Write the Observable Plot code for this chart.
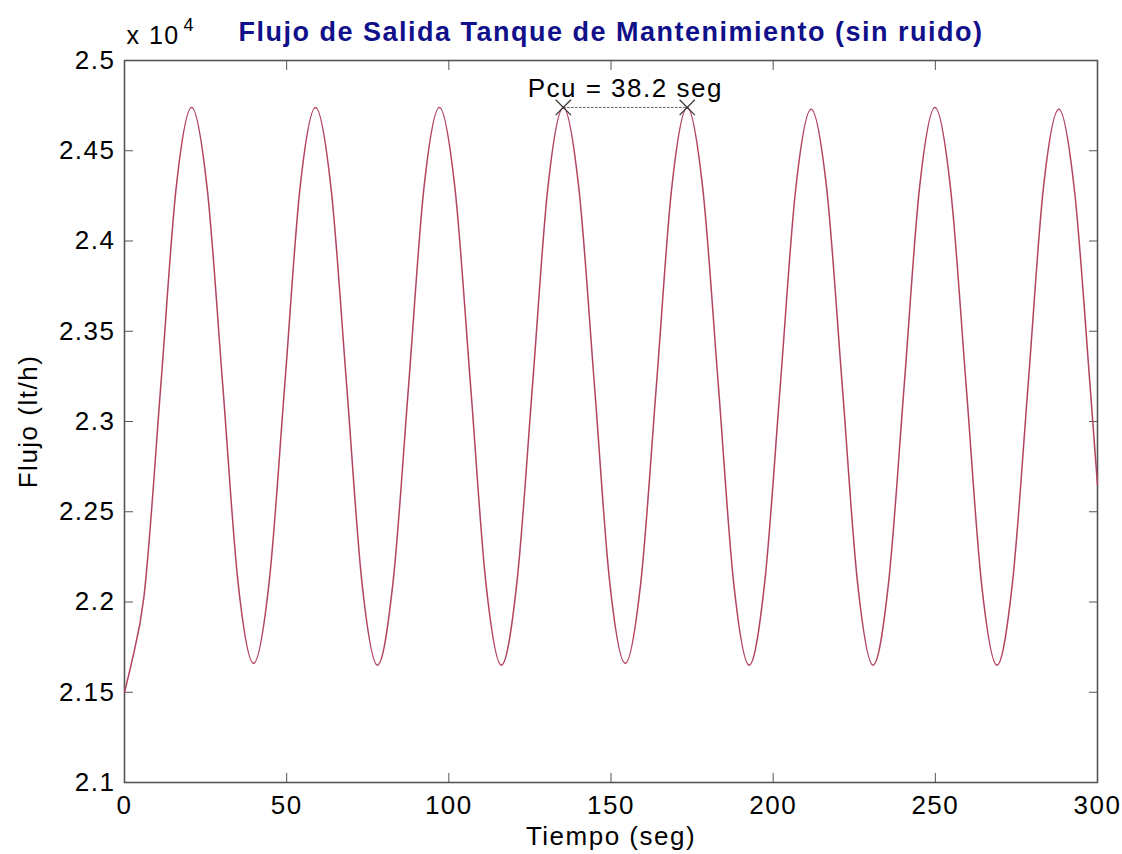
<!DOCTYPE html>
<html><head><meta charset="utf-8">
<script src="https://cdn.jsdelivr.net/npm/d3@7"></script>
<script src="https://cdn.jsdelivr.net/npm/@observablehq/plot@0.6"></script>
<style>body{margin:0;background:#fff}</style>
</head><body><div id="chart"></div>
<script>
const tiempo = [0, 2.0, 6.0, 11.2, 15.9,
  20.7, 25.5, 30.3, 35.0, 39.8, 44.6, 49.4, 54.1,
  58.9, 63.7, 68.5, 73.2, 78.0, 82.8, 87.6, 92.3,
  97.1, 101.9, 106.7, 111.4, 116.2, 121.0, 125.8, 130.5,
  135.3, 140.1, 144.9, 149.6, 154.4, 159.2, 164.0, 168.7,
  173.5, 178.3, 183.1, 187.8, 192.6, 197.4, 202.2, 206.9,
  211.7, 216.5, 221.3, 226.0, 230.8, 235.6, 240.4, 245.1,
  249.9, 254.7, 259.5, 264.2, 269.0, 273.8, 278.6, 283.3,
  288.1, 292.9, 297.7, 300];
const flujo = [2.150, 2.165, 2.203, 2.320, 2.429,
  2.474, 2.429, 2.320, 2.211, 2.166, 2.211, 2.320, 2.429,
  2.474, 2.429, 2.320, 2.211, 2.165, 2.211, 2.320, 2.429,
  2.474, 2.429, 2.320, 2.211, 2.165, 2.211, 2.320, 2.429,
  2.474, 2.429, 2.320, 2.211, 2.166, 2.211, 2.320, 2.429,
  2.474, 2.429, 2.320, 2.211, 2.165, 2.211, 2.320, 2.428,
  2.473, 2.429, 2.320, 2.211, 2.165, 2.211, 2.320, 2.429,
  2.474, 2.429, 2.320, 2.211, 2.165, 2.211, 2.320, 2.429,
  2.473, 2.428, 2.320, 2.265];
const xTicks = [0, 50, 100, 150, 200, 250, 300];
const yTicks = [2.1, 2.15, 2.2, 2.25, 2.3, 2.35, 2.4, 2.45, 2.5];
const pcuTiempo = [135.3, 173.5];
const pcuFlujo = [2.474, 2.474];
const pcuLabel = "Pcu = 38.2 seg";
const titulo = "Flujo de Salida Tanque de Mantenimiento (sin ruido)";
const xLabel = "Tiempo (seg)";
const yLabel = "Flujo (lt/h)";
const escala = "x 10";
const exponente = "4";

const data = tiempo.map((t, i) => ({t, f: flujo[i]}));
const pcu = pcuTiempo.map((t, i) => ({t, f: pcuFlujo[i]}));
const pcuMid = [{t: (pcuTiempo[0] + pcuTiempo[1]) / 2, f: pcuFlujo[0]}];

const axisColor = "#555";
const chart = Plot.plot({
  width: 1122, height: 854,
  marginLeft: 124, marginRight: 25, marginTop: 60, marginBottom: 72,
  style: {fontFamily: "'Liberation Sans', Arial, sans-serif", letterSpacing: "1.5px", background: "#fff", color: "#000"},
  x: {domain: [0, 300]},
  y: {domain: [2.1, 2.5]},
  marks: [
    Plot.axisX(xTicks, {anchor: "bottom", tickSize: -9, tickPadding: 22, fontSize: 26, label: null, stroke: axisColor, fill: "#000"}),
    Plot.axisX(xTicks, {anchor: "top", tickSize: -9, tickFormat: () => "", label: null, stroke: axisColor}),
    Plot.axisY(yTicks, {anchor: "left", tickSize: -9, tickPadding: 18, fontSize: 26, label: null, stroke: axisColor, fill: "#000", tickFormat: d => String(d)}),
    Plot.axisY(yTicks, {anchor: "right", tickSize: -9, tickFormat: () => "", label: null, stroke: axisColor}),
    Plot.frame({stroke: axisColor, strokeWidth: 1.6}),
    Plot.line(data, {x: "t", y: "f", stroke: "#b3445e", strokeWidth: 1.5, curve: "monotone-x"}),
    Plot.line(pcu, {x: "t", y: "f", stroke: "#666", strokeWidth: 1, strokeDasharray: "2,2"}),
    Plot.dot(pcu, {x: "t", y: "f", symbol: "times", r: 7, stroke: "#333", strokeWidth: 1.2}),
    Plot.text(pcuMid, {x: "t", y: "f", text: () => pcuLabel, dy: -19, fontSize: 26, fill: "#000"}),
    Plot.text([titulo], {frameAnchor: "top", lineAnchor: "middle", dy: -28, fontSize: 27, fontWeight: "bold", fill: "#10108a"}),
    Plot.text([escala], {frameAnchor: "top-left", textAnchor: "start", lineAnchor: "middle", dx: 2, dy: -25, fontSize: 25, fill: "#000"}),
    Plot.text([exponente], {frameAnchor: "top-left", textAnchor: "start", lineAnchor: "middle", dx: 59, dy: -35, fontSize: 18, fill: "#000"}),
    Plot.text([xLabel], {frameAnchor: "bottom", lineAnchor: "middle", dy: 54, fontSize: 26, fill: "#000"}),
    Plot.text([yLabel], {frameAnchor: "left", textAnchor: "middle", lineAnchor: "middle", dx: -96, rotate: -90, fontSize: 26, fill: "#000"})
  ]
});
document.getElementById("chart").appendChild(chart);
</script>
</body></html>
